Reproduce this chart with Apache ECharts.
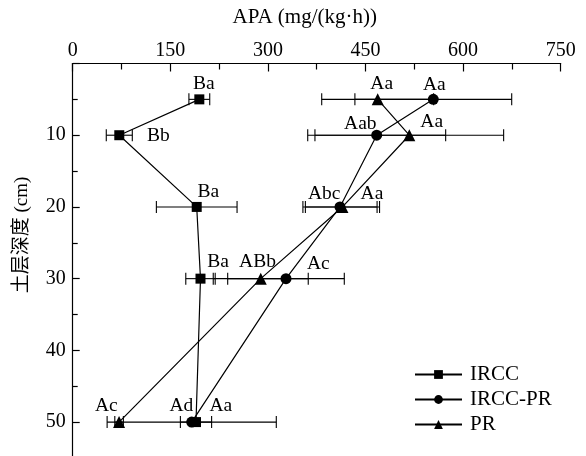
<!DOCTYPE html>
<html>
<head>
<meta charset="utf-8">
<script src="https://cdn.jsdelivr.net/npm/echarts@6/dist/echarts.min.js"></script>
<style>html,body{margin:0;padding:0;background:#fff}#c{width:586px;height:456px}</style>
</head>
<body>
<div id="c"></div>
<script>
// ---- data ----
const depths = [5, 10, 20, 30, 50];
const seriesNames = ['IRCC', 'IRCC-PR', 'PR'];
const irccMean = [194.6, 71.6, 190.6, 196.4, 189.5];
const irccErr = [16, 20, 62, 22.6, 24];
const irccprMean = [554.2, 467.2, 410.8, 327.8, 182.9];
const irccprErr = [120.5, 106, 57, 89.6, 130];
const prMean = [468.7, 517.3, 414.6, 289, 71.3];
const prErr = [86, 145, 57, 73, 6.6];
const irccLabels = ['Ba', 'Bb', 'Ba', 'Ba', 'Aa'];
const irccprLabels = ['Aa', 'Aab', 'Abc', 'Ac', 'Ad'];
const prLabels = ['Aa', 'Aa', 'Aa', 'ABb', 'Ac'];
const xTicks = [0, 150, 300, 450, 600, 750];
const yTicks = [10, 20, 30, 40, 50];

// ---- label placement (style only) ----
const irccLabelOffsets = [[4.5, -15], [39, 1], [11.6, -15], [17.5, -16.6], [24.8, -16.7]];
const irccprLabelOffsets = [[1, -14.5], [-16.4, -11.7], [-15.8, -13.4], [32.3, -15], [-10.4, -16.7]];
const prLabelOffsets = [[4, -15.7], [22.4, -13.3], [29.5, -13.4], [-3.2, -16.6], [-12.8, -16]];

const FONT = "'Liberation Serif', 'Times New Roman', serif";

function lineData(mean, labels, offsets) {
  return depths.map((d, i) => ({
    value: [mean[i], d],
    label: {show: true, formatter: labels[i], position: 'inside', offset: offsets[i],
      color: '#000', fontFamily: FONT, fontSize: 19.5}
  }));
}
function errData(mean, err) {
  return depths.map((d, i) => [mean[i] - err[i], mean[i] + err[i], d]);
}
function errRender(params, api) {
  const lo = api.coord([api.value(0), api.value(2)]);
  const hi = api.coord([api.value(1), api.value(2)]);
  const h = 6;
  const st = {stroke: '#000', lineWidth: 1.1, fill: null};
  return {type: 'group', children: [
    {type: 'line', shape: {x1: lo[0], y1: lo[1], x2: hi[0], y2: hi[1]}, style: st},
    {type: 'line', shape: {x1: lo[0], y1: lo[1] - h, x2: lo[0], y2: lo[1] + h}, style: st},
    {type: 'line', shape: {x1: hi[0], y1: hi[1] - h, x2: hi[0], y2: hi[1] + h}, style: st}
  ]};
}
function errSeries(mean, err) {
  return {type: 'custom', renderItem: errRender, data: errData(mean, err),
    encode: {x: [0, 1], y: 2}, silent: true, z: 1, clip: false};
}
function lineSeries(name, mean, labels, offsets, symbol, size) {
  return {name: name, type: 'line', data: lineData(mean, labels, offsets),
    symbol: symbol, symbolSize: size, showAllSymbol: true,
    lineStyle: {color: '#000', width: 1.2}, itemStyle: {color: '#000'},
    emphasis: {disabled: true}, z: 3, animation: false};
}

const chart = echarts.init(document.getElementById('c'), null, {renderer: 'canvas'});
chart.setOption({
  animation: false,
  backgroundColor: '#fff',
  grid: {left: 72.7, top: 63.5, width: 488, height: 430.3, containLabel: false, outerBoundsMode: 'none'},
  xAxis: {
    type: 'value', position: 'top', min: xTicks[0], max: xTicks[xTicks.length - 1],
    interval: xTicks[1] - xTicks[0],
    name: 'APA (mg/(kg·h))', nameLocation: 'middle', nameGap: 36,
    nameTextStyle: {fontFamily: FONT, fontSize: 21, color: '#000', padding: [0, 24, 0, 0]},
    axisLine: {show: true, lineStyle: {color: '#000', width: 1.2}},
    axisTick: {show: true, inside: true, length: 8, lineStyle: {color: '#000', width: 1.2}},
    minorTick: {show: true, splitNumber: 2, length: 6, lineStyle: {color: '#000', width: 1.2}},
    axisLabel: {fontFamily: FONT, fontSize: 20, color: '#000', margin: 3},
    splitLine: {show: false}
  },
  yAxis: {
    type: 'value', inverse: true, min: 0, max: 60, interval: 10,
    axisLine: {show: true, lineStyle: {color: '#000', width: 1.2}},
    axisTick: {show: true, inside: true, length: 7, lineStyle: {color: '#000', width: 1.2}},
    minorTick: {show: true, splitNumber: 2, length: 5, lineStyle: {color: '#000', width: 1.2}},
    axisLabel: {fontFamily: FONT, fontSize: 20, color: '#000', margin: 7,
      formatter: v => (yTicks.indexOf(v) >= 0 ? String(v) : '')},
    splitLine: {show: false}
  },
  legend: {
    show: true, orient: 'vertical', left: 409, top: 359,
    itemWidth: 47, itemHeight: 11, itemGap: 4,
    data: seriesNames,
    textStyle: {fontFamily: FONT, fontSize: 21, color: '#000', padding: [0, 0, 0, 3]},
    inactiveColor: '#000'
  },
  graphic: [{
    type: 'text', x: 22.5, y: 235, rotation: Math.PI / 2,
    style: {text: '土层深度 (cm)', fontFamily: "'Liberation Serif', 'Noto Sans CJK SC', serif",
      fontSize: 19, fill: '#000', align: 'center', verticalAlign: 'middle'}
  }],
  series: [
    errSeries(irccMean, irccErr),
    errSeries(irccprMean, irccprErr),
    errSeries(prMean, prErr),
    lineSeries(seriesNames[0], irccMean, irccLabels, irccLabelOffsets, 'rect', 10),
    lineSeries(seriesNames[1], irccprMean, irccprLabels, irccprLabelOffsets, 'circle', 11),
    lineSeries(seriesNames[2], prMean, prLabels, prLabelOffsets, 'triangle', 12)
  ]
});
</script>
</body>
</html>
